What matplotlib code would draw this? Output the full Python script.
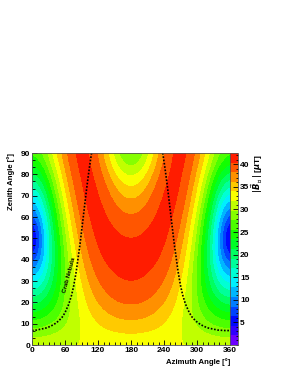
import colorsys
import numpy as np
import matplotlib
matplotlib.use("Agg")
import matplotlib.pyplot as plt
from matplotlib.colors import ListedColormap, BoundaryNorm
from matplotlib.ticker import MultipleLocator

# grid of |B_perp| values (uT)
azimuth = [0, 15, 30, 45, 60, 75, 90, 105, 120, 135, 150, 165, 180,
           195, 210, 225, 240, 255, 270, 285, 300, 315, 330, 345, 360]
zenith = [0, 10, 20, 30, 40, 50, 60, 70, 80, 90]

b_zen0 = [32.0] * 25
b_zen10 = [26.5, 26.7, 27.4, 28.3, 29.4, 30.7, 31.9, 33.0, 33.9, 34.7, 35.2, 35.6, 35.7,
           35.6, 35.2, 34.7, 33.9, 33.0, 31.9, 30.7, 29.4, 28.3, 27.4, 26.7, 26.5]
b_zen20 = [20.6, 21.2, 23.0, 25.3, 28.0, 30.5, 32.9, 34.8, 36.3, 37.4, 38.2, 38.6, 38.7,
           38.6, 38.2, 37.4, 36.3, 34.8, 32.9, 30.5, 28.0, 25.3, 23.0, 21.2, 20.6]
b_zen30 = [14.1, 15.5, 18.9, 23.2, 27.4, 31.1, 34.2, 36.6, 38.4, 39.4, 40.1, 40.5, 40.6,
           40.5, 40.1, 39.4, 38.4, 36.6, 34.2, 31.1, 27.4, 23.2, 18.9, 15.5, 14.1]
b_zen40 = [7.2, 10.3, 16.3, 22.4, 27.8, 32.4, 35.9, 38.4, 39.9, 40.8, 41.1, 41.2, 41.2,
           41.2, 41.1, 40.8, 39.9, 38.4, 35.9, 32.4, 27.8, 22.4, 16.3, 10.3, 7.2]
b_zen50 = [1.5, 8.2, 16.0, 23.1, 29.1, 34.0, 37.5, 39.7, 40.9, 41.2, 41.0, 40.7, 40.6,
           40.7, 41.0, 41.2, 40.9, 39.7, 37.5, 34.0, 29.1, 23.1, 16.0, 8.2, 1.5]
b_zen60 = [7.2, 11.2, 18.3, 25.2, 31.2, 35.8, 39.0, 40.7, 41.2, 40.7, 39.8, 39.0, 38.7,
           39.0, 39.8, 40.7, 41.2, 40.7, 39.0, 35.8, 31.2, 25.2, 18.3, 11.2, 7.2]
b_zen70 = [14.1, 16.6, 22.2, 28.3, 33.6, 37.7, 40.2, 41.2, 40.8, 39.4, 37.7, 36.2, 35.7,
           36.2, 37.7, 39.4, 40.8, 41.2, 40.2, 37.7, 33.6, 28.3, 22.2, 16.6, 14.1]
b_zen80 = [20.6, 22.4, 26.6, 31.5, 35.9, 39.2, 40.9, 41.1, 39.7, 37.4, 34.6, 32.4, 31.6,
           32.4, 34.6, 37.4, 39.7, 41.1, 40.9, 39.2, 35.9, 31.5, 26.6, 22.4, 20.6]
b_zen90 = [26.5, 27.8, 30.8, 34.6, 38.1, 40.4, 41.2, 40.4, 38.1, 34.6, 30.8, 27.8, 26.5,
           27.8, 30.8, 34.6, 38.1, 40.4, 41.2, 40.4, 38.1, 34.6, 30.8, 27.8, 26.5]

# Crab Nebula track (azimuth, zenith)
crab_az_rise = [0, 8.4, 27.9, 39.8, 48.5, 55.0, 59.9, 67.1, 72.1, 75.9, 80.4, 83.9,
                87.4, 90.5, 93.5, 96.4, 99.4, 102.5, 105.1, 108.3]
crab_zen_rise = [6.8, 7.0, 8.1, 9.6, 11.3, 13.1, 15.1, 19.3, 23.5, 27.8, 34.4, 41.0,
                 47.5, 54.1, 60.6, 67.0, 73.4, 79.6, 84.5, 90.0]
crab_az_set = [237.7, 240.9, 243.5, 246.6, 249.6, 252.5, 255.5, 258.6, 262.1, 265.6,
               270.1, 273.9, 278.9, 286.1, 291.0, 297.5, 306.2, 318.1, 337.6, 353.0, 360.0]
crab_zen_set = [90.0, 84.5, 79.6, 73.4, 67.0, 60.6, 54.1, 47.5, 41.0, 34.4,
                27.8, 23.5, 19.3, 15.1, 13.1, 11.3, 9.6, 8.1, 7.0, 6.75, 6.8]

bfield = np.array([b_zen0, b_zen10, b_zen20, b_zen30, b_zen40,
                   b_zen50, b_zen60, b_zen70, b_zen80, b_zen90])

# violet -> red spectrum, 20 contour levels
zmin, zmax, ncont = 0.0, 42.5, 20
levels = np.linspace(zmin, zmax, ncont + 1)
cols = []
for k in range(ncont):
    hue = 272 * (1 - (k + 0.5) / ncont)
    cols.append(colorsys.hls_to_rgb(hue / 360.0, 0.5, 1.0))
cmap = ListedColormap(cols)
cmap.set_under(cols[0])
cmap.set_over(cols[-1])
norm = BoundaryNorm(levels, ncont)

plt.rcParams["font.family"] = "Liberation Sans"
plt.rcParams["font.weight"] = "bold"

W, H = 289, 374
fig = plt.figure(figsize=(W / 100, H / 100), dpi=100)
ax = fig.add_axes([32 / W, 29 / H, 198 / W, 192 / H])
cax = fig.add_axes([230 / W, 29 / H, 8 / W, 192 / H])

d_az = azimuth[1] - azimuth[0]
d_zen = zenith[1] - zenith[0]
im = ax.imshow(bfield, origin="lower", aspect="auto", cmap=cmap, norm=norm,
               interpolation="bicubic", interpolation_stage="data",
               extent=[azimuth[0] - d_az / 2, azimuth[-1] + d_az / 2,
                       zenith[0] - d_zen / 2, zenith[-1] + d_zen / 2])
ax.plot(crab_az_rise, crab_zen_rise, color="k", lw=1.2, ls=(0, (1, 1)))
ax.plot(crab_az_set, crab_zen_set, color="k", lw=1.2, ls=(0, (1, 1)))
ax.text(67, 33, "Crab Nebula", rotation=75, fontsize=4.5, fontweight="bold",
        ha="center", va="center")

ax.set_xlim(0, 360)
ax.set_ylim(0, 90)
ax.xaxis.set_major_locator(MultipleLocator(60))
ax.xaxis.set_minor_locator(MultipleLocator(10))
ax.yaxis.set_major_locator(MultipleLocator(10))
ax.yaxis.set_minor_locator(MultipleLocator(10 / 3))
ax.tick_params(which="both", direction="in", labelsize=6, width=0.6)
ax.tick_params(which="major", length=3.5, pad=1.5)
ax.tick_params(which="minor", length=2)
for s in ax.spines.values():
    s.set_linewidth(0.6)
    s.set_color("#555555")

cb = fig.colorbar(im, cax=cax, ticks=[5, 10, 15, 20, 25, 30, 35, 40])
cax.yaxis.set_ticks_position("right")
cax.yaxis.set_minor_locator(MultipleLocator(1))
cax.tick_params(which="both", direction="in", labelsize=6, width=0.6, pad=1.5)
cax.tick_params(which="major", length=3.5)
cax.tick_params(which="minor", length=1.5)
cb.outline.set_linewidth(0.6)
cb.outline.set_edgecolor("#555555")

fig.text(230 / W, 1 - 362 / H, "Azimuth Angle [°]", ha="right", va="center",
         fontsize=5.6, fontweight="bold")
fig.text(11 / W, 1 - 153 / H, "Zenith Angle [°]", rotation=90, ha="center",
         va="top", fontsize=5.6, fontweight="bold")
fig.text(257 / W, 1 - 154 / H, r"$|\vec{B}_{\perp}|$ [$\mu$T]", rotation=90,
         ha="center", va="top", fontsize=6)

fig.savefig("out.png", dpi=100)
